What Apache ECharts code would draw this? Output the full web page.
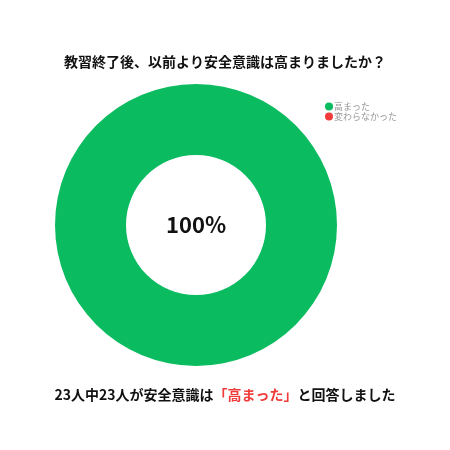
<!DOCTYPE html>
<html>
<head>
<meta charset="utf-8">
<script src="https://cdn.jsdelivr.net/npm/echarts@6/dist/echarts.min.js"></script>
<style>
html,body{margin:0;padding:0;background:#fff;}
#c{width:450px;height:450px;}
</style>
</head>
<body>
<div id="c"></div>
<script>
const categories = ['高まった', '変わらなかった'];
const counts = [23, 0];
const colors = ['#0bbb5f', '#f03b3b'];
const titleText = '教習終了後、以前より安全意識は高まりましたか？';
const centerText = '100%';
const footerParts = ['23人中23人が安全意識は', '「高まった」', 'と回答しました'];

const FONT = '"Noto Sans CJK JP", "Noto Sans", sans-serif';
const chart = echarts.init(document.getElementById('c'));
chart.setOption({
  backgroundColor: '#fff',
  animation: false,
  color: colors,
  title: [
    {
      text: titleText,
      left: 'center',
      top: 50,
      textStyle: { fontFamily: FONT, fontSize: 14, fontWeight: 'bold', color: '#111' }
    },
    {
      text: '{a|' + footerParts[0] + '}{b|' + footerParts[1] + '}{a|' + footerParts[2] + '}',
      left: 'center',
      top: 383,
      textStyle: {
        rich: {
          a: { fontFamily: FONT, fontSize: 14, fontWeight: 'bold', color: '#111' },
          b: { fontFamily: FONT, fontSize: 14, fontWeight: 'bold', color: '#f03b3b' }
        }
      }
    }
  ],
  legend: {
    orient: 'vertical',
    left: 320,
    top: 97,
    icon: 'circle',
    itemWidth: 8,
    itemHeight: 8,
    itemGap: 1,
    textStyle: { fontFamily: FONT, fontSize: 9, color: '#999', padding: [0, 0, 0, -4] },
    data: categories
  },
  series: [{
    type: 'pie',
    center: [196, 225],
    radius: [70, 141],
    startAngle: 90,
    avoidLabelOverlap: false,
    labelLine: { show: false },
    label: { show: false },
    emphasis: { disabled: true },
    data: categories.map((c, i) => ({
      name: c,
      value: counts[i],
      label: i === 0 ? {
        show: true,
        position: 'center',
        formatter: centerText,
        fontFamily: FONT,
        fontSize: 22,
        fontWeight: 'bold',
        color: '#111'
      } : { show: false }
    }))
  }]
});
</script>
</body>
</html>
